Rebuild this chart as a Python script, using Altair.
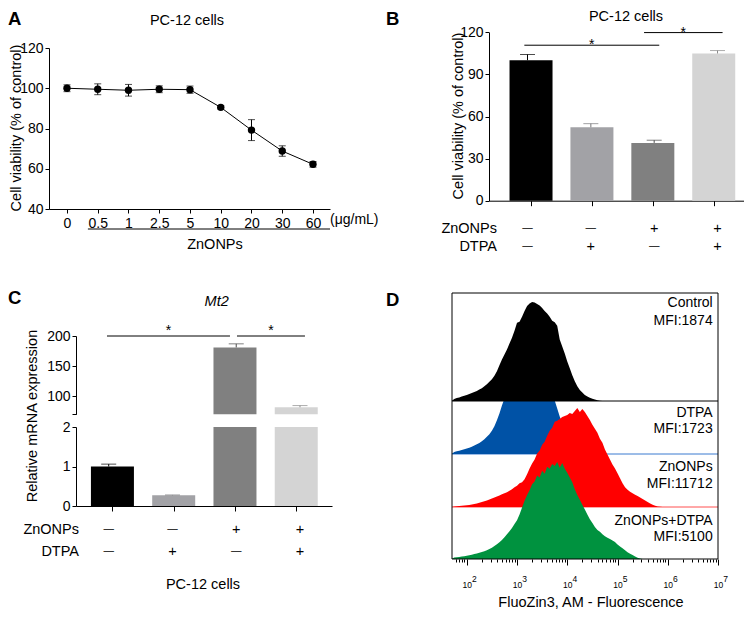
import altair as alt
import pandas as pd
import math

FONT = "Liberation Sans"
W, H = 736, 601

# ---------------- Panel A : dose response ----------------
a_doses = ["0", "0.5", "1", "2.5", "5", "10", "20", "30", "60"]
a_mean = [100.0, 99.5, 99.0, 99.5, 99.3, 90.5, 79.2, 68.8, 62.2]
a_err = [1.7, 2.7, 2.9, 1.7, 1.8, 0.8, 5.2, 2.6, 1.4]
a_bracket_from = 0.68     # ZnONPs bracket, in dose-index units
a_bracket_to = 8.553

# ---------------- Panels B / C : grouped bars ----------------
groups = ["Control", "DTPA", "ZnONPs", "ZnONPs+DTPA"]
zn_signs = ["\u2014", "\u2014", "+", "+"]
dtpa_signs = ["\u2014", "+", "\u2014", "+"]
bar_colors = ["#000000", "#a2a2a6", "#808080", "#d4d4d4"]
err_colors = ["#000000", "#77777a", "#4c4c4c", "#8a8a8a"]

b_mean = [100.1, 52.3, 41.2, 104.9]
b_err = [4.1, 2.6, 1.9, 2.1]
b_sig_from = [0.95, 2.84]
b_sig_to = [3.08, 4.08]
b_sig_at = [110.8, 119.8]

c_mean = [1.0, 0.27, 181.0, 81.7]
c_err = [0.06, 0.01, 6.0, 2.8]
c_sig_from = [0.973, 3.012]
c_sig_to = [2.902, 4.078]
c_sig_at = [208.3, 208.3]

# ---------------- Panel D : flow histograms (log10 fluorescence) ----------------
hist_bins = [round(1.70 + 0.05 * i, 2) for i in range(85)]
ctrl_h = [0, 2, 3, 3.5, 4.5, 5.2, 6, 7, 8, 9, 10, 11.5, 13, 15, 17, 19.5, 22, 25.5, 30, 36,
          42, 47, 52, 58, 64, 71, 79, 80, 85, 91, 96, 98.5, 100, 99.5, 98, 96.5, 94, 91, 88.5, 85,
          81, 79.5, 76, 62, 55, 48, 40, 33, 26, 20, 15, 11, 8.5, 6, 4.5, 3.2, 2.2, 1.5, 0.8, 0.3, 0]
dtpa_h = [0, 2, 2.8, 3.3, 4, 4.8, 5.5, 6.2, 7.2, 8.5, 9.8, 11.2, 12.8, 15, 17.5, 20, 23.5, 28, 34, 41,
          49, 56, 63, 70, 76, 82, 87, 91, 95, 98, 100, 99, 97, 94, 90, 85, 80, 75, 70, 65,
          60, 54, 46, 38, 31, 25, 20, 16, 12, 9, 6.5, 4.5, 3, 2, 1.2, 0.6, 0.2, 0]
zn_h = [0, 0.5, 0.8, 1.0, 1.3, 1.6, 1.8, 2.0, 2.4, 3.0, 3.6, 4.3, 5.0, 5.8, 6.6, 7.5, 8.5, 9.5, 10.5, 11.5,
        12.8, 14, 15, 16.5, 18, 20, 21.5, 24, 25, 28, 33, 39, 44, 48, 54, 57, 63, 66, 72, 77,
        80, 86, 87, 89, 91, 92, 93, 95, 94, 97, 100, 96, 99, 96, 92, 88, 83, 79, 75, 69,
        65, 58, 53, 48, 43, 39, 34, 29, 24, 20, 17.5, 15.5, 14, 12.5, 11, 9.5, 8, 6.5, 5, 3.5,
        2.2, 1.2, 0.6, 0.3, 0]
zndtpa_h = [0, 1.5, 1.8, 2.1, 2.5, 2.9, 3.4, 3.9, 4.5, 5.1, 5.7, 6.4, 7.1, 8, 9, 10.2, 11.7, 13.5, 15.3, 17.3,
            19.6, 22.5, 25.5, 28.5, 32, 36, 40, 46, 53, 60, 66, 71, 77, 80, 86, 84, 91, 88, 95, 93,
            98, 96, 100, 94, 99, 93, 89, 84, 79, 72, 66, 61, 56, 51, 46, 41, 37, 33, 30, 28,
            25.5, 23.5, 22, 20.5, 19, 17.5, 15, 13, 11, 9, 7, 5.5, 4, 2.5, 1.2, 0.4, 0]
d_names = ["Control", "DTPA", "ZnONPs", "ZnONPs+DTPA"]
d_mfi = [1874, 1723, 11712, 5100]
d_colors = ["#000000", "#0052a6", "#ff0000", "#00923f"]
d_exponents = [2, 3, 4, 5, 6, 7]

# ---------------- layout (scales map data into the panel boxes) ----------------
def lin(domain, rng, **kw):
    return alt.Scale(type="linear", domain=domain, range=rng, nice=False, zero=False, **kw)

A_X = lin([-0.585, 8.553], [41, 322])
A_Y = lin([40, 120], [201, 40])
B_X = lin([0.392, 4.497], [481, 741])
B_Y = lin([0, 120], [192.7, 24.3])
C_X = lin([0.487, 4.502], [68, 324])
C_LO = lin([0, 2], [498, 419], clamp=True)
C_HI = lin([70, 200], [406.3, 328], clamp=True)
D_LO, D_HI = 1.706, 7.0
D_X = lin([D_LO, D_HI], [444, 710])
D_FRAME = lin([0, 1], [551, 285])
D_Y = [lin([0, 100], [393, 294]), lin([0, 100], [446, 347]),
       lin([0, 100], [499, 400]), lin([0, 100], [551, 454])]


def ax(orient, offset, **kw):
    return alt.Axis(orient=orient, offset=offset, title=None, grid=False, **kw)


def label(text, x, y, size=14, align="center", baseline="middle", weight="normal",
          style="normal", angle=0, color="black"):
    return alt.Chart(pd.DataFrame({"t": [text]})).mark_text(
        font=FONT, fontSize=size, align=align, baseline=baseline, fontWeight=weight,
        fontStyle=style, angle=angle, color=color
    ).encode(text="t:N", x=alt.value(x), y=alt.value(y))


def sign_layers(df, scale, col, yy):
    out = []
    plus = alt.Chart(df).transform_filter("datum.%s == '+'" % col).mark_text(
        font=FONT, fontSize=14.5, baseline="middle", color="black")
    dash = alt.Chart(df).transform_filter("datum.%s != '+'" % col).mark_text(
        font=FONT, fontSize=10.5, baseline="middle", color="black", dy=-1)
    for m in (plus, dash):
        out.append(m.encode(x=alt.X("i:Q", scale=scale, axis=None), y=alt.value(yy), text=col + ":N"))
    return out


layers = []

# ---------------- Panel A ----------------
dfA = pd.DataFrame({"i": list(range(len(a_doses))), "mean": a_mean, "err": a_err})
baseA = alt.Chart(dfA).transform_calculate(lo="datum.mean - datum.err", hi="datum.mean + datum.err")
dose_js = "[" + ",".join("'%s'" % d for d in a_doses) + "]"
ax_ax = ax("bottom", -(H - 201), values=list(range(len(a_doses))), labelExpr=dose_js + "[datum.value]",
           tickSize=4, labelPadding=3)
ay_ax = ax("left", -41, values=[40, 60, 80, 100, 120], tickSize=4, labelPadding=2)

layers.append(alt.Chart(dfA).mark_line(color="black", strokeWidth=1).encode(
    x=alt.X("i:Q", scale=A_X, axis=ax_ax), y=alt.Y("mean:Q", scale=A_Y, axis=ay_ax), order="i:Q"))
layers.append(baseA.mark_rule(color="black", strokeWidth=1).encode(
    x=alt.X("i:Q", scale=A_X, axis=None), y=alt.Y("lo:Q", scale=A_Y, axis=None), y2="hi:Q"))
for end in ["lo", "hi"]:
    layers.append(baseA.mark_tick(orient="horizontal", size=7, thickness=1, color="black").encode(
        x=alt.X("i:Q", scale=A_X, axis=None), y=alt.Y(end + ":Q", scale=A_Y, axis=None)))
layers.append(alt.Chart(dfA).mark_point(filled=True, size=55, color="black", opacity=1).encode(
    x=alt.X("i:Q", scale=A_X, axis=None), y=alt.Y("mean:Q", scale=A_Y, axis=None)))
layers.append(alt.Chart(pd.DataFrame({"a": [a_bracket_from], "b": [a_bracket_to]})).mark_rule(
    color="black", strokeWidth=1).encode(
    x=alt.X("a:Q", scale=A_X, axis=None), x2="b:Q", y=alt.value(221)))

# ---------------- Panel B ----------------
dfB = pd.DataFrame({"i": [1, 2, 3, 4], "mean": b_mean, "err": b_err,
                    "c": bar_colors, "ec": err_colors, "zn": zn_signs, "dt": dtpa_signs})
baseB = alt.Chart(dfB).transform_calculate(hi="datum.mean + datum.err")
bx_ax = ax("bottom", -(H - 192.7), values=[1, 2, 3, 4], labels=False, tickSize=5)
by_ax = ax("left", -481, values=[0, 30, 60, 90, 120], tickSize=4, labelPadding=2)
layers.append(alt.Chart(dfB).mark_bar(size=43).encode(
    x=alt.X("i:Q", scale=B_X, axis=bx_ax), y=alt.Y("mean:Q", scale=B_Y, axis=by_ax),
    y2=alt.datum(0), color=alt.Color("c:N", scale=None)))
layers.append(baseB.mark_rule(strokeWidth=1).encode(
    x=alt.X("i:Q", scale=B_X, axis=None), y=alt.Y("mean:Q", scale=B_Y, axis=None), y2="hi:Q",
    color=alt.Color("ec:N", scale=None)))
layers.append(baseB.mark_tick(orient="horizontal", size=15, thickness=1).encode(
    x=alt.X("i:Q", scale=B_X, axis=None), y=alt.Y("hi:Q", scale=B_Y, axis=None),
    color=alt.Color("ec:N", scale=None)))
dfBs = pd.DataFrame({"a": b_sig_from, "b": b_sig_to, "y": b_sig_at})
layers.append(alt.Chart(dfBs).mark_rule(color="black", strokeWidth=1).encode(
    x=alt.X("a:Q", scale=B_X, axis=None), x2="b:Q", y=alt.Y("y:Q", scale=B_Y, axis=None)))
layers.append(alt.Chart(dfBs).transform_calculate(m="(datum.a + datum.b) / 2").mark_text(
    text="*", font=FONT, fontSize=14, baseline="alphabetic", dy=4, color="black").encode(
    x=alt.X("m:Q", scale=B_X, axis=None), y=alt.Y("y:Q", scale=B_Y, axis=None)))
layers += sign_layers(dfB, B_X, "zn", 220.7)
layers += sign_layers(dfB, B_X, "dt", 239.3)

# ---------------- Panel C ----------------
dfC = pd.DataFrame({"i": [1, 2, 3, 4], "mean": c_mean, "err": c_err,
                    "c": bar_colors, "ec": err_colors, "zn": zn_signs, "dt": dtpa_signs})
baseC = alt.Chart(dfC).transform_calculate(hi="datum.mean + datum.err")
cx_ax = ax("bottom", -(H - 498), values=[1, 2, 3, 4], labels=False, tickSize=5)
clo_ax = ax("left", -68, values=[0, 1, 2], tickSize=4, labelPadding=2,
            labelExpr="'' + datum.value")
chi_ax = ax("left", -68, values=[70, 100, 150, 200], tickSize=4, labelPadding=2,
            labelExpr="datum.value == 70 ? '' : datum.label")
layers.append(alt.Chart(dfC).mark_bar(size=43).encode(
    x=alt.X("i:Q", scale=C_X, axis=cx_ax), y=alt.Y("mean:Q", scale=C_LO, axis=clo_ax),
    y2=alt.datum(0), color=alt.Color("c:N", scale=None)))
layers.append(alt.Chart(dfC).transform_filter("datum.mean > 2").mark_bar(size=43).encode(
    x=alt.X("i:Q", scale=C_X, axis=None), y=alt.Y("mean:Q", scale=C_HI, axis=chi_ax),
    y2=alt.datum(70), color=alt.Color("c:N", scale=None)))
for cond, sc in [("datum.mean <= 2", C_LO), ("datum.mean > 2", C_HI)]:
    sub = baseC.transform_filter(cond)
    layers.append(sub.mark_rule(strokeWidth=1).encode(
        x=alt.X("i:Q", scale=C_X, axis=None), y=alt.Y("mean:Q", scale=sc, axis=None), y2="hi:Q",
        color=alt.Color("ec:N", scale=None)))
    layers.append(sub.mark_tick(orient="horizontal", size=15, thickness=1).encode(
        x=alt.X("i:Q", scale=C_X, axis=None), y=alt.Y("hi:Q", scale=sc, axis=None),
        color=alt.Color("ec:N", scale=None)))
dfCs = pd.DataFrame({"a": c_sig_from, "b": c_sig_to, "y": c_sig_at})
layers.append(alt.Chart(dfCs).mark_rule(color="black", strokeWidth=1).encode(
    x=alt.X("a:Q", scale=C_X, axis=None), x2="b:Q", y=alt.Y("y:Q", scale=C_HI, axis=None)))
layers.append(alt.Chart(dfCs).transform_calculate(m="(datum.a + datum.b) / 2").mark_text(
    text="*", font=FONT, fontSize=14, baseline="alphabetic", dy=4, color="black").encode(
    x=alt.X("m:Q", scale=C_X, axis=None), y=alt.Y("y:Q", scale=lin([70, 200], [406.3, 328]), axis=None)))
layers += sign_layers(dfC, C_X, "zn", 522)
layers += sign_layers(dfC, C_X, "dt", 544.3)

# ---------------- Panel D ----------------
hists = [ctrl_h, dtpa_h, zn_h, zndtpa_h]
ext = pd.DataFrame({"lo": [D_LO], "hi": [D_HI], "z": [0], "top": [109], "one": [1]})
line_cols = ["#000000", "#3a7bd0", "#ff5050"]


def hist_area(k):
    h = hists[k]
    df = pd.DataFrame({"v": hist_bins[:len(h)], "h": h})
    return alt.Chart(df).mark_area(color=d_colors[k], interpolate="linear", opacity=1).encode(
        x=alt.X("v:Q", scale=D_X, axis=None), y=alt.Y("h:Q", scale=D_Y[k], axis=None), y2=alt.datum(0))


def base_rule(k, axis=None):
    return alt.Chart(ext).mark_rule(color=line_cols[k], strokeWidth=1).encode(
        x=alt.X("lo:Q", scale=D_X, axis=axis), x2="hi:Q", y=alt.Y("z:Q", scale=D_Y[k], axis=None))


layers.append(base_rule(1))
layers.append(hist_area(1))
layers.append(base_rule(2))
layers.append(hist_area(2))
layers.append(hist_area(3))
layers.append(alt.Chart(ext).mark_rect(color="white").encode(
    x=alt.X("lo:Q", scale=D_X, axis=None), x2="hi:Q",
    y=alt.Y("z:Q", scale=D_Y[0], axis=None), y2="top:Q"))
layers.append(hist_area(0))
minor = []
for e in range(1, 7):
    for m in range(2, 10):
        v = e + math.log10(m)
        if D_LO <= v <= D_HI:
            minor.append(round(v, 4))
minor_ax = ax("bottom", -(H - 551), values=minor, labels=False, domain=False, tickSize=3)
layers.append(base_rule(0, axis=minor_ax))
major_ax = ax("bottom", -(H - 551), values=d_exponents, labelExpr="'10'", domain=False, tickSize=6,
              labelFontSize=8.5, labelBaseline="middle", labelPadding=19)
layers.append(alt.Chart(ext).mark_rect(stroke="black", strokeWidth=1, fillOpacity=0).encode(
    x=alt.X("lo:Q", scale=D_X, axis=major_ax), x2="hi:Q",
    y=alt.Y("z:Q", scale=D_FRAME, axis=None), y2="one:Q"))
layers.append(alt.Chart(pd.DataFrame({"e": d_exponents})).mark_text(
    font=FONT, fontSize=8.5, baseline="middle", align="center", dx=7.6, color="black").encode(
    x=alt.X("e:Q", scale=D_X, axis=None), y=alt.value(571), text="e:N"))
d_label_y = [(295.3, 312.7), (405.3, 421.3), (458.7, 476.3), (513, 529.3)]
for k in range(4):
    y1, y2 = d_label_y[k]
    layers.append(label(d_names[k], 704.7, y1, size=14, align="right"))
    layers.append(label("MFI:%d" % d_mfi[k], 704.7, y2, size=14, align="right"))

# ---------------- texts ----------------
layers += [
    label("A", 0, 17, size=18.5, align="left", baseline="alphabetic", weight="bold"),
    label("PC-12 cells", 179, 16.5, size=14.5, baseline="alphabetic"),
    label("Cell viability (% of control)", 9, 120, size=14.5, angle=270),
    label("(\u03bcg/mL)", 322, 212, size=14, align="left"),
    label("ZnONPs", 207, 237, size=14.5),
    label("B", 378, 17, size=18.5, align="left", baseline="alphabetic", weight="bold"),
    label("PC-12 cells", 618, 13, size=14.5, baseline="alphabetic"),
    label("Cell viability (% of control)", 451, 108, size=14.5, angle=270),
    label("ZnONPs", 489, 220.7, size=14.5, align="right"),
    label("DTPA", 489, 239.3, size=14.5, align="right"),
    label("C", 0, 296, size=18.5, align="left", baseline="alphabetic", weight="bold"),
    label("Mt2", 208.7, 294, size=14.5, style="italic"),
    label("Relative mRNA expression", 25, 408, size=14.5, angle=270),
    label("ZnONPs", 71, 522, size=14.5, align="right"),
    label("DTPA", 71, 544.3, size=14.5, align="right"),
    label("PC-12 cells", 195, 577, size=14.5),
    label("D", 378, 298, size=18.5, align="left", baseline="alphabetic", weight="bold"),
    label("FluoZin3, AM - Fluorescence", 583, 595, size=14.5),
]

chart = alt.layer(*layers).resolve_scale(x="independent", y="independent").properties(
    width=W, height=H, padding=0, autosize=alt.AutoSizeParams(type="none")
).configure_view(stroke=None).configure_axis(
    labelFont=FONT, labelFontSize=14, labelColor="black", domainColor="black", tickColor="black",
    domainWidth=1, tickWidth=1, labelFlush=False, labelOverlap=False, grid=False
)

chart.save("out.html", embed_options={"renderer": "svg", "actions": False})
